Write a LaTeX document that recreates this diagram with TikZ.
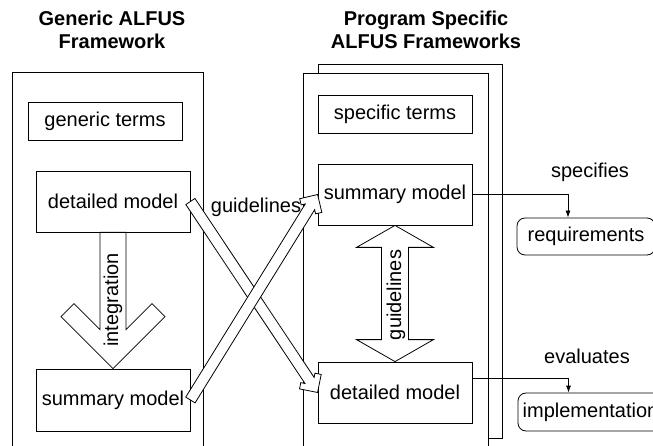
\documentclass[tikz,border=0pt]{standalone}
\usepackage{fontspec}
\setmainfont{Liberation Sans}
\usetikzlibrary{calc,arrows.meta}
% fat arrow with a V shaped head: from, to, half shaft, half head, arm
\def\drawChevronArrow#1#2#3#4#5{
\draw[fatarrow] let \p1=($(#2)-(#1)$), \n1={atan2(\y1,\x1)}, \n2={veclen(\x1,\y1)} in
  [shift={(#1)}, rotate=\n1]
  (0pt,#3pt) -- ({\n2-#3pt-#5pt},#3pt) -- ({\n2-#4pt-#5pt/2},{#4pt-#5pt/2})
  -- ({\n2-#4pt},#4pt) -- (\n2,0pt) -- ({\n2-#4pt},-#4pt)
  -- ({\n2-#4pt-#5pt/2},{-#4pt+#5pt/2}) -- ({\n2-#3pt-#5pt},-#3pt) -- (0pt,-#3pt) -- cycle;
}
% fat arrow with a head at both ends: from, to, half shaft, half head, head length
\def\drawDoubleArrow#1#2#3#4#5{
\draw[fatarrow] let \p1=($(#2)-(#1)$), \n1={atan2(\y1,\x1)}, \n2={veclen(\x1,\y1)} in
  [shift={(#1)}, rotate=\n1]
  (0pt,0pt) -- (#5pt,#4pt) -- (#5pt,#3pt) -- ({\n2-#5pt},#3pt) -- ({\n2-#5pt},#4pt)
  -- (\n2,0pt) -- ({\n2-#5pt},-#4pt) -- ({\n2-#5pt},-#3pt) -- (#5pt,-#3pt) -- (#5pt,-#4pt) -- cycle;
}
\begin{document}
\begin{tikzpicture}[x=1pt,y=-1pt,
  font=\fontsize{20}{23}\selectfont,
  line width=0.8pt,
  box/.style={draw, minimum width=154pt, inner sep=0pt},
  roundbox/.style={draw, rounded corners=8pt, inner sep=0pt},
  frame/.style={draw, fill=white, anchor=north west, inner sep=0pt},
  fatarrow/.style={draw, fill=white, line join=miter},
  title/.style={align=center, font=\fontsize{20}{23}\selectfont\bfseries},
  link/.style={-{Latex[length=7pt,width=5pt]}}]
\useasboundingbox (0,0) rectangle (653,446);
\clip (0,0) rectangle (653,446);

\node[title] (gtitle) at (112,30) {Generic ALFUS\\Framework};
\node[title] (ptitle) at (426,30) {Program Specific\\ALFUS Frameworks};

% frameworks
\node[frame, minimum width=191pt, minimum height=400pt] (gframe) at (12,72) {};
\node[frame, minimum width=184pt, minimum height=374pt] (pback) at (318,64) {};
\node[frame, minimum width=185pt, minimum height=400pt] (pframe) at (303,73) {};

\node[box, minimum height=38pt] (gterms) at (105,121) {generic terms};
\node[box, minimum height=61pt] (ldet) at (113,201.5) {detailed model};
\node[box, minimum height=62pt] (lsum) at (113,400) {summary model};
\node[box, minimum height=38pt] (sterms) at (395,114) {specific terms};
\node[box, minimum height=61pt] (rsum) at (395,194.5) {summary model};
\node[box, minimum height=61pt] (rdet) at (395,392.5) {detailed model};
\node[roundbox, minimum width=138pt, minimum height=37pt] (req) at (586,236.5) {requirements};
\node[roundbox, minimum width=145pt, minimum height=38pt] (impl) at (590.5,412) {implementation};

\drawChevronArrow{ldet.south}{lsum.north}{13}{52}{26}
\drawChevronArrow{ldet.east}{rdet.west}{5.5}{13}{9}
\drawChevronArrow{lsum.east}{rsum.west}{5.5}{13}{9}
\drawDoubleArrow{rsum.south}{rdet.north}{13.5}{38.5}{22}

\node[rotate=90] (integ) at (113,300) {integration};
\node[rotate=90] (guide) at (396,295) {guidelines};
\node (cross) at (256,207) {guidelines};
\node (spec) at (590,172) {specifies};
\node (eval) at (587,356) {evaluates};

\draw[link] (rsum.east) -| ([xshift=-18pt]req.north);
\draw[link] ([yshift=14pt]rdet.east) -| ([xshift=-22pt]impl.north);
\end{tikzpicture}
\end{document}
